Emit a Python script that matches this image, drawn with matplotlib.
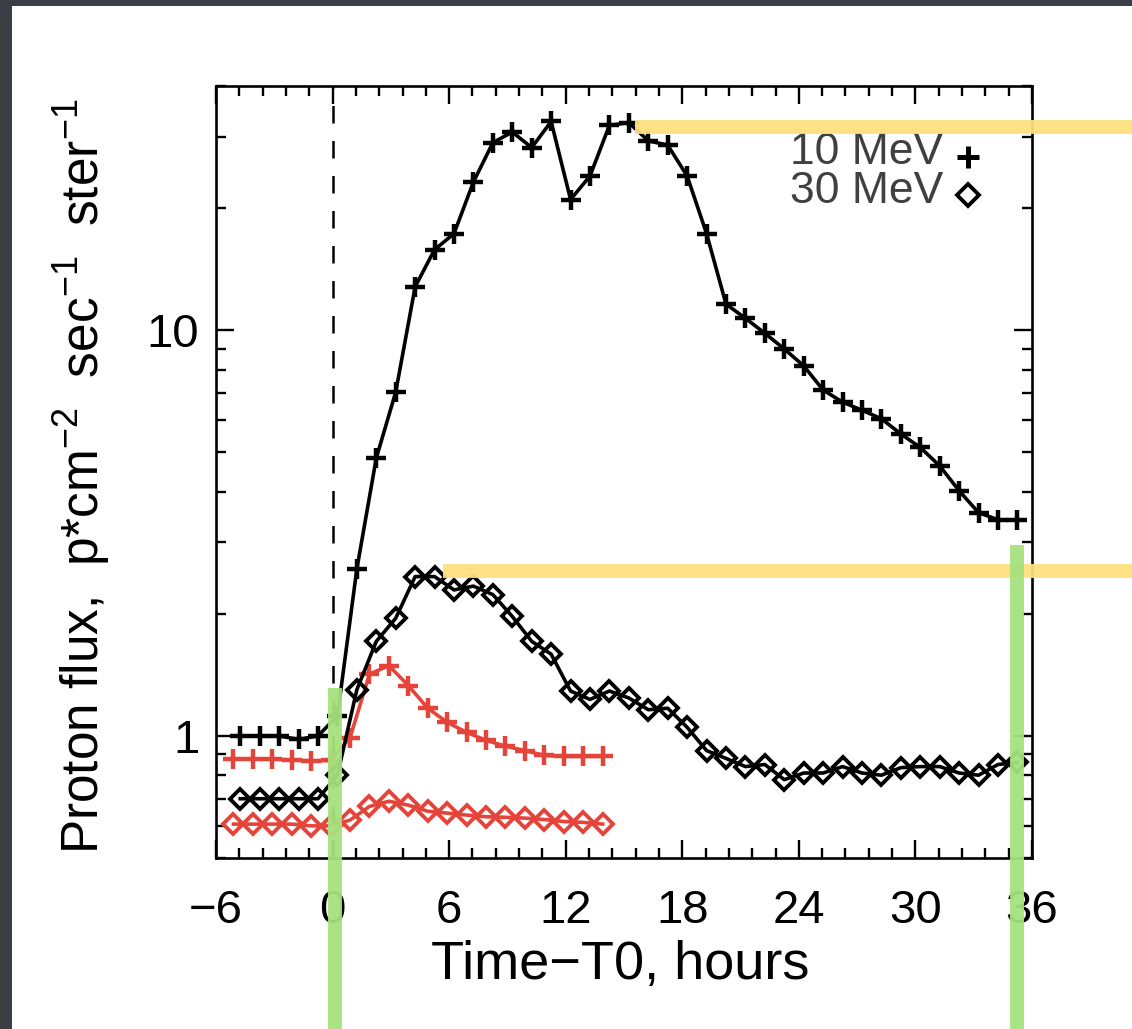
import numpy as np
import matplotlib
matplotlib.use("Agg")
import matplotlib.pyplot as plt
from matplotlib.ticker import FixedLocator, NullFormatter
from matplotlib.lines import Line2D
from matplotlib.patches import Rectangle

plt.rcParams['font.family'] = ['Liberation Sans', 'DejaVu Sans']
plt.rcParams['mathtext.fontset'] = 'custom'
plt.rcParams['mathtext.rm'] = 'Liberation Sans'
plt.rcParams['mathtext.default'] = 'regular'

# hours since T0 for the black (event) series
hours_event = [-4.75, -3.75, -2.75, -1.75, -0.75, 0.25, 1.25, 2.25, 3.25, 4.25,
               5.25, 6.25, 7.25, 8.25, 9.25, 10.25, 11.25, 12.25, 13.25, 14.25,
               15.25, 16.25, 17.25, 18.25, 19.25, 20.25, 21.25, 22.25, 23.25, 24.25,
               25.25, 26.25, 27.25, 28.25, 29.25, 30.25, 31.25, 32.25, 33.25, 34.25,
               35.25]
flux_10mev = [1.00, 1.00, 1.00, 0.98, 1.00, 1.12, 2.58, 4.84, 7.04, 12.8,
              15.8, 17.3, 23.2, 29.0, 30.8, 28.2, 32.7, 21.0, 24.0, 32.0,
              32.5, 29.3, 28.6, 24.0, 17.3, 11.6, 10.7, 9.83, 8.99, 8.17,
              7.12, 6.65, 6.35, 6.05, 5.55, 5.14, 4.63, 4.02, 3.55, 3.41,
              3.41]
flux_30mev = [0.70, 0.70, 0.70, 0.70, 0.70, 0.80, 1.30, 1.71, 1.95, 2.47,
              2.47, 2.29, 2.34, 2.23, 1.97, 1.71, 1.59, 1.29, 1.23, 1.29,
              1.24, 1.16, 1.17, 1.05, 0.92, 0.88, 0.84, 0.85, 0.78, 0.81,
              0.81, 0.84, 0.81, 0.80, 0.835, 0.84, 0.84, 0.81, 0.80, 0.85,
              0.86]

# red (comparison) series
hours_ref = [-5.1, -4.1, -3.1, -2.1, -1.1, -0.1, 0.9, 1.9, 2.9, 3.9,
             4.9, 5.9, 6.9, 7.9, 8.9, 9.9, 10.9, 11.9, 12.9, 13.9]
ref_10mev = [0.877, 0.877, 0.877, 0.872, 0.868, 0.87, 0.99, 1.42, 1.49, 1.33,
             1.17, 1.08, 1.02, 0.975, 0.943, 0.92, 0.895, 0.89, 0.89, 0.89]
ref_30mev = [0.606, 0.606, 0.606, 0.606, 0.60, 0.60, 0.62, 0.67, 0.69, 0.675,
             0.652, 0.645, 0.638, 0.632, 0.63, 0.627, 0.622, 0.615, 0.612, 0.606]

xticks = [-6, 0, 6, 12, 18, 24, 30, 36]
xtick_labels = ['\u22126', '0', '6', '12', '18', '24', '30', '36']

W, H = 1132, 1029
fig = plt.figure(figsize=(W / 100, H / 100), dpi=100)
fig.patch.set_facecolor('#3c3e45')
fig.patches.append(Rectangle((12 / W, 0), 1, 1 - 6 / H, transform=fig.transFigure,
                             facecolor='white', edgecolor='none', zorder=-5))

ax = fig.add_axes([216 / W, 1 - 858 / H, 816 / W, 772 / H])
ax.set_facecolor('white')
ax.set_yscale('log')
ax.set_xlim(-6, 36)
ax.set_ylim(0.5, 40)

red = '#e5443b'
lw = 2.6
ax.plot(hours_ref, ref_10mev, color=red, lw=lw, marker='+', ms=15, mew=3.2)
ax.plot(hours_ref, ref_30mev, color=red, lw=lw, marker='D', ms=10.5, mew=2.8, mfc='none')
ax.plot(hours_event, flux_10mev, color='black', lw=lw, marker='+', ms=15, mew=3.2)
ax.plot(hours_event, flux_30mev, color='black', lw=lw, marker='D', ms=10.5, mew=2.8, mfc='none')

ax.axvline(0, color='black', lw=1.8, dashes=(7, 7))

for s in ax.spines.values():
    s.set_linewidth(1.9)

ax.xaxis.set_major_locator(FixedLocator(xticks))
ax.xaxis.set_minor_locator(FixedLocator([x / 5 * 6 for x in range(-5, 31)]))
ax.set_xticklabels(xtick_labels)
ax.yaxis.set_major_locator(FixedLocator([1, 10]))
ax.yaxis.set_minor_locator(FixedLocator([0.5, 0.6, 0.7, 0.8, 0.9, 2, 3, 4, 5, 6, 7, 8, 9, 20, 30, 40]))
ax.yaxis.set_minor_formatter(NullFormatter())
ax.set_yticklabels(['1', '10'])
ax.tick_params(which='both', direction='in', top=True, right=True, width=1.7, colors='black')
ax.tick_params(which='major', length=13)
ax.tick_params(which='minor', length=7)
ax.tick_params(axis='x', which='major', labelsize=34, pad=22)
ax.tick_params(axis='y', which='major', labelsize=34, pad=12)

ax.set_xlabel('Time\u2212T0, hours', fontsize=39)
ax.xaxis.set_label_coords(0.496, -0.106)
ax.set_ylabel('Proton flux,  p*cm$^{-2}$  sec$^{-1}$  ster$^{-1}$', fontsize=37)
ax.yaxis.set_label_coords(-0.128, 0.494)

# legend drawn by hand like the original
ax.text(0.891, 0.914, '10 MeV', transform=ax.transAxes, ha='right', va='center',
        fontsize=32, color='#404040')
ax.text(0.891, 0.863, '30 MeV', transform=ax.transAxes, ha='right', va='center',
        fontsize=32, color='#404040')
ax.plot([0.9216], [0.908], transform=ax.transAxes, marker='+', ms=16, mew=3.6, color='black')
ax.plot([0.9216], [0.859], transform=ax.transAxes, marker='D', ms=11, mew=2.8,
        mfc='none', color='black')

# chalk marks drawn over the slide
def px(x, y):
    return x / W, 1 - y / H

for (x0, y0), (x1, y1), c, w in [
        ((635, 127), (1132, 127), '#fde07e', 10),
        ((443, 571), (1132, 571), '#fde07e', 10),
        ((335, 688), (335, 1029), '#a6e27c', 10),
        ((1017, 545), (1017, 1029), '#a6e27c', 10)]:
    a, b = px(x0, y0)
    c2, d = px(x1, y1)
    fig.add_artist(Line2D([a, c2], [b, d], transform=fig.transFigure, color=c,
                          lw=w, solid_capstyle='butt', alpha=0.95, zorder=10))

fig.savefig('out.png', dpi=100, facecolor=fig.get_facecolor())
